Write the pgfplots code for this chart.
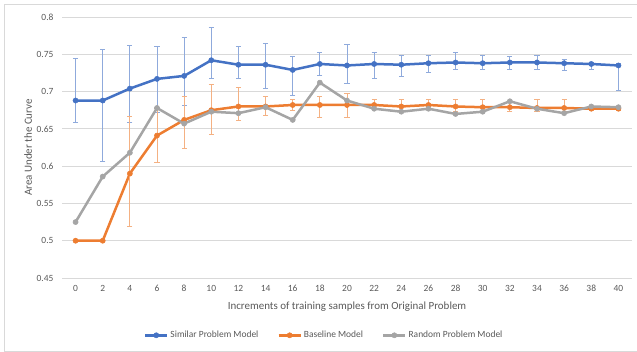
\documentclass[border=0pt]{standalone}
\usepackage{fontspec}
\setmainfont{Carlito}
\usepackage{pgfplots}
\pgfplotsset{compat=1.18}
\usepackage{pgfplotstable}
\definecolor{cblue}{HTML}{4472C4}
\definecolor{corange}{HTML}{ED7D31}
\definecolor{cgray}{HTML}{A5A5A5}
\definecolor{eblue}{HTML}{8FAADC}
\definecolor{eorange}{HTML}{F4B183}
\definecolor{gridgray}{HTML}{D9D9D9}
\definecolor{textgray}{HTML}{595959}
\definecolor{framegray}{HTML}{D9D9D9}

\pgfplotstableread{
x y ep em
0 0.688 0.057 0.030
2 0.688 0.068 0.082
4 0.704 0.058 0.046
6 0.717 0.043 0.045
8 0.721 0.052 0.040
10 0.742 0.044 0.025
12 0.736 0.024 0.019
14 0.736 0.028 0.032
16 0.729 0.018 0.034
18 0.737 0.015 0.016
20 0.735 0.028 0.024
22 0.737 0.015 0.020
24 0.736 0.012 0.016
26 0.738 0.010 0.013
28 0.739 0.013 0.009
30 0.738 0.010 0.008
32 0.739 0.008 0.009
34 0.739 0.009 0.009
36 0.738 0.005 0.010
38 0.737 0.002 0.007
40 0.735 0.003 0.034
}\tblue

\pgfplotstableread{
x y ep em
0 0.500 0 0
2 0.500 0 0
4 0.590 0.076 0.071
6 0.641 0.036 0.036
8 0.662 0.032 0.039
10 0.675 0.034 0.033
12 0.680 0.025 0.019
14 0.680 0.014 0.012
16 0.682 0.008 0.007
18 0.682 0.012 0.017
20 0.682 0.016 0.017
22 0.682 0.007 0.005
24 0.680 0.009 0.005
26 0.682 0.007 0.005
28 0.680 0.009 0.007
30 0.679 0.010 0.006
32 0.679 0.006 0.006
34 0.678 0.011 0.005
36 0.678 0.011 0.005
38 0.677 0.003 0.003
40 0.677 0.003 0.003
}\torange

\pgfplotstableread{
x y
0 0.525
2 0.586
4 0.618
6 0.678
8 0.657
10 0.673
12 0.671
14 0.679
16 0.662
18 0.712
20 0.688
22 0.677
24 0.673
26 0.677
28 0.670
30 0.673
32 0.687
34 0.677
36 0.671
38 0.680
40 0.679
}\tgray

\begin{document}
\begin{tikzpicture}
\useasboundingbox (-62bp,-74bp) rectangle (575bp,278bp);
\draw[framegray, line width=1bp] (580bp,273bp) -- (-57bp,273bp) -- (-57bp,-73bp) -- (580bp,-73bp);
\begin{axis}[
  at={(0,0)}, anchor=south west,
  scale only axis, width=570bp, height=261bp,
  xmin=-1, xmax=41, ymin=0.45, ymax=0.8,
  xtick={0,2,...,40},
  ytick={0.45,0.5,0.55,0.6,0.65,0.7,0.75,0.8},
  yticklabel style={/pgf/number format/fixed, /pgf/number format/precision=2},
  /pgf/number format/assume math mode=true,
  ymajorgrids, grid style={gridgray, line width=0.75bp},
  axis line style={draw=none},
  major tick length=0pt,
  tick label style={font=\fontsize{9.5}{11}\selectfont, text=textgray},
  yticklabel style={xshift=-5bp},
  xticklabel style={yshift=-4bp},
  xlabel={Increments of training samples from Original Problem},
  ylabel={Area Under the Curve},
  label style={font=\fontsize{11}{13}\selectfont, text=textgray},
  xlabel style={at={(axis description cs:0.5,-0.11)}, anchor=center},
  ylabel style={at={(axis description cs:-0.0596,0.5)}, anchor=center, rotate=0},
  legend columns=3,
  legend style={draw=none, fill=none, at={(axis description cs:0.46,-0.2195)}, anchor=center,
    font=\fontsize{9.5}{11}\selectfont, text=textgray,
    /tikz/every even column/.append style={column sep=17bp}},
  legend cell align=left,
  legend image code/.code={\draw[mark repeat=2,mark phase=2] plot coordinates {(0bp,0bp) (11bp,0bp) (22bp,0bp)};},
  every axis plot/.append style={line width=2.5bp, mark=*, mark size=2.6bp},
]
\addplot[cblue, mark options={fill=cblue, line width=0.5bp},
  error bars/.cd, y dir=both, y explicit,
  error bar style={eblue, line width=1bp},
  error mark options={eblue, line width=1bp, mark size=2.6bp, rotate=90}]
  table[x=x, y=y, y error plus=ep, y error minus=em] {\tblue};
\addlegendentry{Similar Problem Model}
\addplot[corange, mark options={fill=corange, line width=0.5bp},
  error bars/.cd, y dir=both, y explicit,
  error bar style={eorange, line width=1bp},
  error mark options={eorange, line width=1bp, mark size=2.6bp, rotate=90}]
  table[x=x, y=y, y error plus=ep, y error minus=em] {\torange};
\addlegendentry{Baseline Model}
\addplot[cgray, mark options={fill=cgray, line width=0.5bp}]
  table[x=x, y=y] {\tgray};
\addlegendentry{Random Problem Model}
\end{axis}
\end{tikzpicture}
\end{document}
